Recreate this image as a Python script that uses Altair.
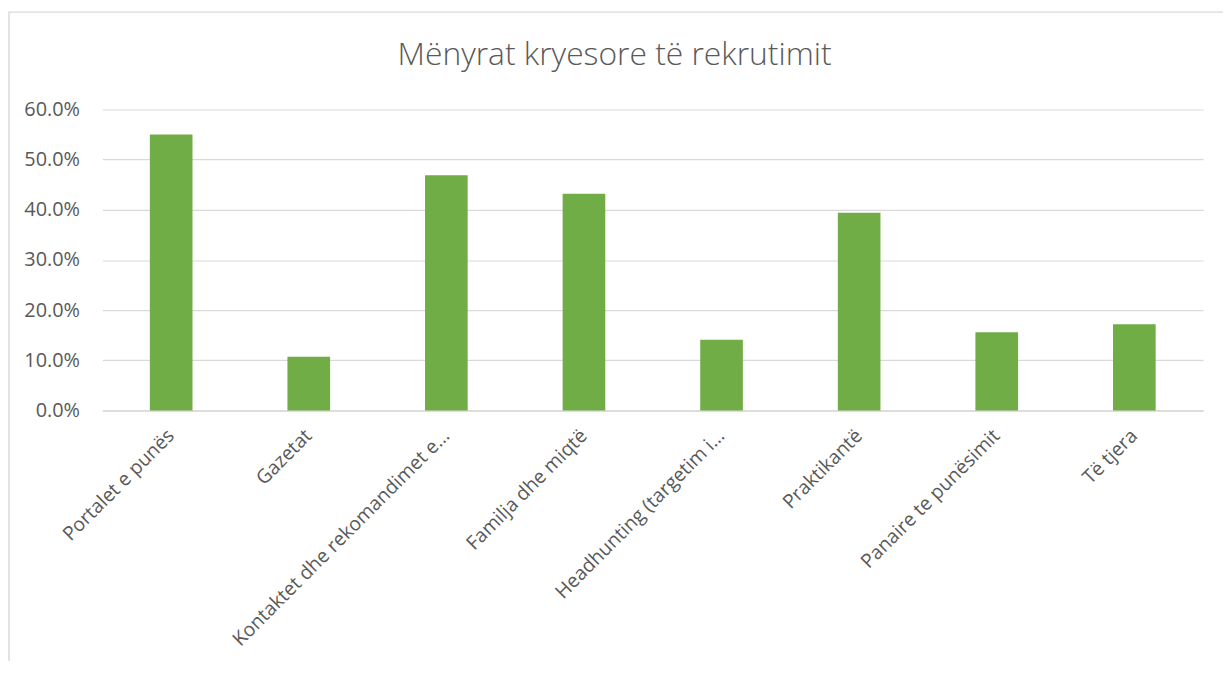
import altair as alt
import pandas as pd

categories = [
    "Portalet e punës",
    "Gazetat",
    "Kontaktet dhe rekomandimet e…",
    "Familja dhe miqtë",
    "Headhunting (targetim i…",
    "Praktikantë",
    "Panaire te punësimit",
    "Të tjera",
]
values = [0.550, 0.107, 0.469, 0.432, 0.141, 0.394, 0.156, 0.172]
title_text = ["Mënyrat kryesore të rekrutimit"]

df = pd.DataFrame({"cat": categories, "val": values})

FONT = "Open Sans"
GRAY = "#595959"

bars = alt.Chart(df).mark_bar(color="#70AD47").encode(
    x=alt.X(
        "cat:N",
        sort=categories,
        title=None,
        scale=alt.Scale(paddingInner=0.69, paddingOuter=0.345),
        axis=alt.Axis(
            labelAngle=-45,
            labelAlign="right",
            labelBaseline="middle",
            labelPadding=22,
            labelFontSize=19.5,
            labelFont=FONT,
            labelColor=GRAY,
            ticks=False,
            domainColor="#d9d9d9",
            domainWidth=1.5,
            labelLimit=500,
        ),
    ),
    y=alt.Y(
        "val:Q",
        title=None,
        scale=alt.Scale(domain=[0, 0.6], nice=False),
        axis=alt.Axis(
            format=".1%",
            values=[0, 0.1, 0.2, 0.3, 0.4, 0.5, 0.6],
            labelFontSize=20,
            labelFont=FONT,
            labelColor=GRAY,
            ticks=False,
            domain=False,
            labelPadding=23,
            gridColor="#d9d9d9",
            gridWidth=1.2,
        ),
    ),
)

border = alt.Chart(pd.DataFrame({"a": [0]})).mark_rect(
    fill=None, stroke="#d9d9d9", strokeWidth=1.5
).encode(
    x=alt.value(-94),
    x2=alt.value(1200),
    y=alt.value(-98),
    y2=alt.value(700),
)

title = alt.Chart(pd.DataFrame({"t": title_text})).mark_text(
    font=FONT, fontSize=32, fontWeight=300, color=GRAY, align="center", baseline="alphabetic"
).encode(
    text="t:N",
    x=alt.value(515.5),
    y=alt.value(-45),
)

chart = alt.layer(border, bars, title).properties(
    width=1108,
    height=303,
    autosize=alt.AutoSizeParams(type="none"),
    padding={"left": 95, "top": 100, "right": 20, "bottom": 250},
).configure_view(stroke=None)

chart.save("out.html", embed_options={"renderer": "svg", "actions": False})
